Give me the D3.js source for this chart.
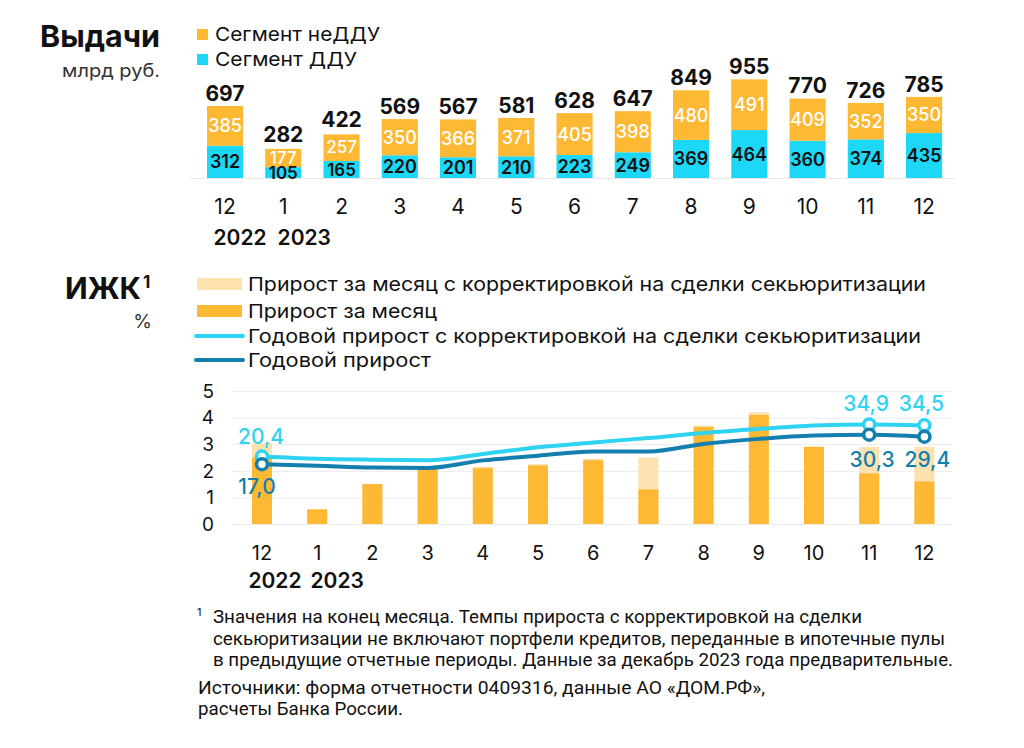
<!DOCTYPE html>
<html><head><meta charset="utf-8">
<script src="https://cdn.jsdelivr.net/npm/d3@7"></script>
<style>
html,body{margin:0;padding:0;background:#fff;}
svg{display:block;font-family:Inter,"Noto Sans",sans-serif;}
</style></head>
<body>
<svg id="c" width="1024" height="748"></svg>
<script>
// ---- data ----
const months = ["12","1","2","3","4","5","6","7","8","9","10","11","12"];
const years = ["2022","2023"];
const nonDDU = [385,177,257,350,366,371,405,398,480,491,409,352,350];
const ddu    = [312,105,165,220,201,210,223,249,369,464,360,374,435];
const totals = [697,282,422,569,567,581,628,647,849,955,770,726,785];

const monthGrowth    = [2.5,0.55,1.5,2.1,2.1,2.2,2.4,1.3,3.65,4.1,2.9,1.9,1.6];
const monthGrowthAdj = [3.05,0.55,1.5,2.15,2.15,2.25,2.45,2.5,3.7,4.2,2.9,2.9,2.9];
const yearGrowthAdj  = [20.4,19.4,19.0,18.8,21.6,24.6,26.8,28.8,31.1,32.9,34.4,34.9,34.5];
const yearGrowth     = [17.0,16.3,15.5,15.3,18.7,20.8,22.7,22.7,26.1,28.4,29.9,30.3,29.4];
const yTicks = [0,1,2,3,4,5];

const legendTop = ["Сегмент неДДУ","Сегмент ДДУ"];
const legendBottom = ["Прирост за месяц с корректировкой на сделки секьюритизации","Прирост за месяц","Годовой прирост с корректировкой на сделки секьюритизации","Годовой прирост"];
const footnote = ["Значения на конец месяца. Темпы прироста с корректировкой на сделки",
  "секьюритизации не включают портфели кредитов, переданные в ипотечные пулы",
  "в предыдущие отчетные периоды. Данные за декабрь 2023 года предварительные."];
const sources = ["Источники: форма отчетности 0409316, данные АО «ДОМ.РФ»,","расчеты Банка России."];

const C = {orange:"#FDB933", lightOrange:"#FDE1AE", cyan:"#1DD7F7", lineLight:"#2ED3F2", lineDark:"#137FAE", text:"#111"};

const svg = d3.select("#c");
const idx = months.map((m,i)=>i);

// ---------- TOP CHART ----------
const xT = d3.scaleBand().domain(idx).range([195.9,953.2]).paddingInner(0.38).paddingOuter(0.19);
const yT = d3.scaleLinear().domain([0,1000]).range([178,74.7]);

svg.append("text").attr("x",40).attr("y",47)
  .attr("font-size",30).attr("font-weight",700).attr("fill",C.text)
  .attr("textLength",120).attr("lengthAdjust","spacingAndGlyphs").text("Выдачи");
svg.append("text").attr("x",62).attr("y",77)
  .attr("font-size",18).attr("fill","#333").attr("textLength",98).attr("lengthAdjust","spacingAndGlyphs").text("млрд руб.");

const legTopW = [165,142];
legendTop.forEach((t,i)=>{
  const y = 29 + i*25;
  svg.append("rect").attr("x",197).attr("y",y).attr("width",11).attr("height",11).attr("fill", i===0?C.orange:C.cyan);
  svg.append("text").attr("x",215).attr("y",y+11.5).attr("font-size",19).attr("fill",C.text)
    .attr("textLength",legTopW[i]).attr("lengthAdjust","spacingAndGlyphs").text(t);
});

svg.append("line").attr("x1",190).attr("x2",955).attr("y1",178.5).attr("y2",178.5).attr("stroke","#e6e6e6").attr("stroke-width",1);

const gT = svg.append("g");
gT.selectAll("rect.ddu").data(idx).join("rect")
  .attr("x",i=>xT(i)).attr("width",xT.bandwidth())
  .attr("y",i=>yT(ddu[i])).attr("height",i=>yT(0)-yT(ddu[i])).attr("fill",C.cyan);
gT.selectAll("rect.nd").data(idx).join("rect")
  .attr("x",i=>xT(i)).attr("width",xT.bandwidth())
  .attr("y",i=>yT(ddu[i]+nonDDU[i])).attr("height",i=>yT(ddu[i])-yT(ddu[i]+nonDDU[i])).attr("fill",C.orange);
const cx = i=>xT(i)+xT.bandwidth()/2;
const small = i => (yT(0)-yT(ddu[i])) < 20;
gT.selectAll("text.tot").data(idx).join("text")
  .attr("x",cx).attr("y",i=>yT(totals[i])-(small(i)?7:5)).attr("text-anchor","middle")
  .attr("font-size",21).attr("font-weight",700).attr("fill",C.text).text(i=>totals[i]);
gT.selectAll("text.nd").data(idx).join("text")
  .attr("x",cx).attr("y",i=>(yT(ddu[i])+yT(ddu[i]+nonDDU[i]))/2 - (small(i)?0.5:0)).attr("dy","0.36em").attr("text-anchor","middle")
  .attr("font-size",i=>small(i)?17:18).attr("font-weight",500).attr("fill","#fff").text(i=>nonDDU[i]);
gT.selectAll("text.dd").data(idx).join("text")
  .attr("x",cx).attr("y",i=>(yT(0)+yT(ddu[i]))/2 + (small(i)?0.5:0)).attr("dy","0.36em").attr("text-anchor","middle")
  .attr("font-size",i=>small(i)?17:18).attr("font-weight",600).attr("fill",C.text).text(i=>ddu[i]);
gT.selectAll("text.m").data(idx).join("text")
  .attr("x",cx).attr("y",214).attr("text-anchor","middle")
  .attr("font-size",21).attr("fill",C.text).text(i=>months[i]);
svg.append("text").attr("x",cx(0)+15).attr("y",245).attr("text-anchor","middle").attr("font-size",21).attr("font-weight",600).attr("fill",C.text).text(years[0]);
svg.append("text").attr("x",cx(1)+21).attr("y",245).attr("text-anchor","middle").attr("font-size",21).attr("font-weight",600).attr("fill",C.text).text(years[1]);

// ---------- BOTTOM CHART ----------
const xB = d3.scaleBand().domain(idx).range([234.4,952]).paddingInner(0.638).paddingOuter(0.319);
const yB = d3.scaleLinear().domain([0,5]).range([524,391]);
const yB2 = d3.scaleLinear().domain([-10,50]).range([524,391]);
const cb = i=>xB(i)+xB.bandwidth()/2;

svg.append("text").attr("x",65).attr("y",298.5)
  .attr("font-size",30).attr("font-weight",700).attr("fill",C.text)
  .attr("textLength",76).attr("lengthAdjust","spacingAndGlyphs").text("ИЖК");
svg.append("text").attr("x",143).attr("y",288).attr("font-size",17).attr("font-weight",700).attr("fill",C.text).text("1");
svg.append("text").attr("x",152).attr("y",328).attr("text-anchor","end").attr("font-size",19).attr("fill","#333").text("%");

const legBotW = [678,189,673,183];
legendBottom.forEach((t,i)=>{
  const yc = [284,311,336,360][i];
  if(i<2){
    svg.append("rect").attr("x",197).attr("y",yc-6).attr("width",45).attr("height",12).attr("fill", i===0?C.lightOrange:C.orange);
  } else {
    svg.append("line").attr("x1",196).attr("x2",243).attr("y1",yc).attr("y2",yc)
      .attr("stroke", i===2?C.lineLight:C.lineDark).attr("stroke-width",4).attr("stroke-linecap","round");
  }
  svg.append("text").attr("x",248).attr("y",yc+6.5).attr("font-size",19).attr("fill",C.text)
    .attr("textLength",legBotW[i]).attr("lengthAdjust","spacingAndGlyphs").text(t);
});

// grid
svg.append("g").selectAll("line").data(yTicks).join("line")
  .attr("x1",232).attr("x2",952).attr("y1",d=>yB(d)+0.5).attr("y2",d=>yB(d)+0.5)
  .attr("stroke","#ececec").attr("stroke-width",1);
svg.append("g").selectAll("text").data(yTicks).join("text")
  .attr("x",214).attr("y",d=>yB(d)).attr("dy","0.36em").attr("text-anchor","end")
  .attr("font-size",19).attr("fill",C.text).text(d=>d);

const gB = svg.append("g");
gB.selectAll("rect.adj").data(idx).join("rect")
  .attr("x",i=>xB(i)).attr("width",xB.bandwidth())
  .attr("y",i=>yB(monthGrowthAdj[i])).attr("height",i=>yB(0)-yB(monthGrowthAdj[i])).attr("fill",C.lightOrange);
gB.selectAll("rect.mg").data(idx).join("rect")
  .attr("x",i=>xB(i)).attr("width",xB.bandwidth())
  .attr("y",i=>yB(monthGrowth[i])).attr("height",i=>yB(0)-yB(monthGrowth[i])).attr("fill",C.orange);

const line = arr => d3.line().x(i=>cb(i)).y(i=>yB2(arr[i])).curve(d3.curveMonotoneX)(idx);
gB.append("path").attr("d",line(yearGrowth)).attr("fill","none").attr("stroke",C.lineDark).attr("stroke-width",4);
gB.append("path").attr("d",line(yearGrowthAdj)).attr("fill","none").attr("stroke",C.lineLight).attr("stroke-width",4);

const marked = [0,11,12];
[[yearGrowthAdj,C.lineLight],[yearGrowth,C.lineDark]].forEach(([arr,col])=>{
  gB.selectAll(null).data(marked).join("circle")
    .attr("cx",cb).attr("cy",i=>yB2(arr[i])).attr("r",5.5)
    .attr("fill","#fff").attr("stroke",col).attr("stroke-width",3.5);
});
const fmt = v=>v.toFixed(1).replace(".",",");
svg.append("text").attr("x",cb(0)-1).attr("y",444).attr("text-anchor","middle").attr("font-size",21).attr("font-weight",500).attr("fill",C.lineLight).text(fmt(yearGrowthAdj[0]));
svg.append("text").attr("x",cb(0)-5).attr("y",494).attr("text-anchor","middle").attr("font-size",21).attr("font-weight",500).attr("fill",C.lineDark).text(fmt(yearGrowth[0]));
[11,12].forEach(i=>{
  svg.append("text").attr("x",cb(i)-3).attr("y",411).attr("text-anchor","middle").attr("font-size",21).attr("font-weight",500).attr("fill",C.lineLight).text(fmt(yearGrowthAdj[i]));
  svg.append("text").attr("x",cb(i)+3).attr("y",467).attr("text-anchor","middle").attr("font-size",21).attr("font-weight",500).attr("fill",C.lineDark).text(fmt(yearGrowth[i]));
});

gB.selectAll("text.m").data(idx).join("text")
  .attr("x",cb).attr("y",560).attr("text-anchor","middle").attr("font-size",20).attr("fill",C.text).text(i=>months[i]);
svg.append("text").attr("x",cb(0)+13).attr("y",588).attr("text-anchor","middle").attr("font-size",21).attr("font-weight",600).attr("fill",C.text).text(years[0]);
svg.append("text").attr("x",cb(1)+20).attr("y",588).attr("text-anchor","middle").attr("font-size",21).attr("font-weight",600).attr("fill",C.text).text(years[1]);

// footnote
svg.append("text").attr("x",197).attr("y",616).attr("font-size",11).attr("fill",C.text).text("1");
const fnW = [649,732,740];
footnote.forEach((t,i)=>{
  svg.append("text").attr("x",213).attr("y",623+i*21.5).attr("font-family","Roboto").attr("font-size",17.5)
    .attr("fill",C.text).attr("textLength",fnW[i]).attr("lengthAdjust","spacingAndGlyphs").text(t);
});
const srW = [567,205];
sources.forEach((t,i)=>{
  svg.append("text").attr("x",198).attr("y",694+i*21).attr("font-family","Roboto").attr("font-size",17.5)
    .attr("fill",C.text).attr("textLength",srW[i]).attr("lengthAdjust","spacingAndGlyphs").text(t);
});
</script>
</body></html>
